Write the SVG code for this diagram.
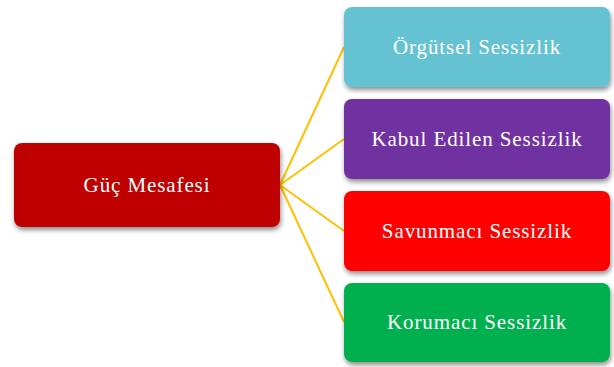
<svg xmlns="http://www.w3.org/2000/svg" width="614" height="367" viewBox="0 0 614 367">
<defs>
<filter id="sh" x="-10%" y="-20%" width="125%" height="150%">
<feGaussianBlur in="SourceAlpha" stdDeviation="2.5"/>
<feOffset dx="1" dy="3" result="b"/>
<feComponentTransfer><feFuncA type="linear" slope="0.45"/></feComponentTransfer>
<feMerge><feMergeNode/><feMergeNode in="SourceGraphic"/></feMerge>
</filter>
</defs>
<style>
.box{filter:url(#sh)}
.t{font-family:"Liberation Serif","DejaVu Serif",serif;font-size:21px;letter-spacing:0.9px;fill:#fff;text-anchor:middle;dominant-baseline:central}
.c{stroke:#FFC000;stroke-width:2;fill:none}
</style>
<rect width="614" height="367" fill="#fff"/>
<g id="connectors">
<line class="c" x1="280" y1="185" x2="344" y2="47"/>
<line class="c" x1="280" y1="185" x2="344" y2="139"/>
<line class="c" x1="280" y1="185" x2="344" y2="231"/>
<line class="c" x1="280" y1="185" x2="344" y2="322"/>
</g>
<g id="guc">
<rect class="box" x="14" y="143" width="266" height="84" rx="8" fill="#BF0000"/>
<text class="t" x="147" y="185">Güç Mesafesi</text>
</g>
<g id="orgutsel">
<rect class="box" x="344" y="7" width="266" height="80" rx="8" fill="#65C2D3"/>
<text class="t" x="477" y="47">Örgütsel Sessizlik</text>
</g>
<g id="kabul">
<rect class="box" x="344" y="99" width="266" height="80" rx="8" fill="#7030A0"/>
<text class="t" x="477" y="139">Kabul Edilen Sessizlik</text>
</g>
<g id="savunmaci">
<rect class="box" x="344" y="191" width="266" height="80" rx="8" fill="#FF0000"/>
<text class="t" x="477" y="231">Savunmacı Sessizlik</text>
</g>
<g id="korumaci">
<rect class="box" x="344" y="283" width="266" height="79" rx="8" fill="#00B050"/>
<text class="t" x="477" y="322">Korumacı Sessizlik</text>
</g>
</svg>
